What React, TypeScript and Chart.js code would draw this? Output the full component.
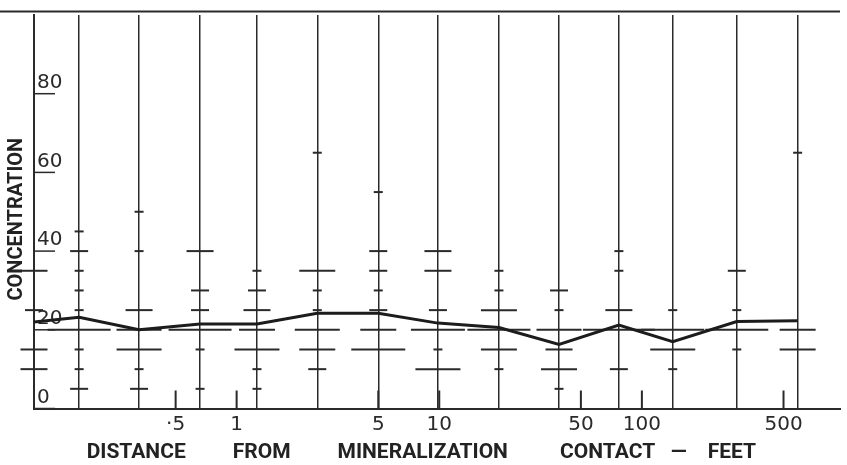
import React, { useEffect, useRef } from 'react';
import { Chart, registerables } from 'chart.js';

Chart.register(...registerables);

// Distance of each sample column from the mineralization contact (feet, log scale)
const columnDistances = [0.1, 0.167, 0.33, 0.66, 1.26, 2.5, 5, 9.85, 19.7, 39, 77, 142, 294, 587];
// Mean concentration at each column (the heavy line)
const meanConcentration = [22, 23.2, 20, 21.5, 21.5, 24.2, 24.2, 21.7, 20.6, 16.3, 21.2, 17, 22.1, 22.3];
// Individual samples per column: [concentration, number of samples]
const samplesByColumn: number[][][] = [
  [[35, 3], [25, 2], [15, 3], [10, 3]],
  [[45, 1], [40, 2], [35, 1], [30, 1], [25, 1], [20, 7], [15, 1], [10, 1], [5, 2]],
  [[50, 1], [40, 1], [25, 3], [20, 5], [15, 5], [10, 1], [5, 2]],
  [[40, 3], [30, 2], [25, 2], [20, 7], [15, 1], [5, 1]],
  [[35, 1], [30, 2], [25, 3], [20, 4], [15, 5], [10, 1], [5, 1]],
  [[65, 1], [35, 4], [30, 1], [25, 1], [20, 5], [15, 4], [10, 2]],
  [[55, 1], [40, 2], [35, 2], [30, 1], [25, 2], [20, 4], [15, 6]],
  [[40, 3], [35, 3], [25, 2], [20, 6], [15, 1], [10, 5]],
  [[35, 1], [30, 1], [25, 4], [20, 7], [15, 4], [10, 1]],
  [[30, 2], [25, 1], [20, 5], [15, 3], [10, 4], [5, 1]],
  [[40, 1], [35, 1], [25, 3], [20, 8], [10, 2]],
  [[25, 1], [20, 7], [15, 5], [10, 1]],
  [[35, 2], [25, 1], [20, 7], [15, 1]],
  [[65, 1], [20, 4], [15, 4]],
];
const xTickValues = [0.5, 1, 5, 10, 50, 100, 500];
const xTickLabels = ['·5', '1', '5', '10', '50', '100', '500'];
const yTickValues = [0, 20, 40, 60, 80, 100];
const yTickLabels = ['0', '20', '40', '60', '80', ''];

const xTitle =
  'DISTANCE' + ' '.repeat(9) + 'FROM' + ' '.repeat(9) + 'MINERALIZATION' + ' '.repeat(10) +
  'CONTACT' + ' '.repeat(3) + '—' + ' '.repeat(4) + 'FEET' + ' '.repeat(6);
const yTitle = 'CONCENTRATION' + ' '.repeat(3);

const INK = '#2a2a2a';

const overlayPlugin = {
  id: 'overlay',
  afterDraw(chart: any) {
    const { ctx, chartArea, scales } = chart;
    const xs = scales.x;
    const ys = scales.y;
    ctx.save();
    ctx.strokeStyle = INK;
    ctx.lineWidth = 1.5;
    ys.ticks.forEach((t: any) => {
      const py = ys.getPixelForValue(t.value);
      ctx.beginPath();
      ctx.moveTo(chartArea.left, py);
      ctx.lineTo(chartArea.left + 21, py);
      ctx.stroke();
    });
    ctx.lineWidth = 2;
    xs.ticks.forEach((t: any) => {
      const px = xs.getPixelForValue(t.value);
      ctx.beginPath();
      ctx.moveTo(px, chartArea.bottom);
      ctx.lineTo(px, chartArea.bottom - 18);
      ctx.stroke();
    });
    ctx.beginPath();
    ctx.moveTo(0, chartArea.top - 3.5);
    ctx.lineTo(chartArea.right, chartArea.top - 3.5);
    ctx.stroke();
    ctx.restore();
  },
};

export default function App() {
  const ref = useRef<HTMLCanvasElement>(null);
  useEffect(() => {
    document.body.style.margin = '0';
    const canvas = ref.current;
    if (!canvas) return;
    const samplePoints: any[] = [];
    samplesByColumn.forEach((col, i) => {
      col.forEach(([v, n]) => samplePoints.push({ x: columnDistances[i], y: v, n }));
    });
    const meanPoints = columnDistances.map((d, i) => ({ x: d, y: meanConcentration[i] }));
    const tickFont = { family: '"DejaVu Sans", sans-serif', size: 20, lineHeight: 1.2 };
    const titleFont = { family: 'Roboto, sans-serif', size: 21, weight: 'bold' as const };

    const chart = new Chart(canvas, {
      type: 'scatter',
      data: {
        datasets: [
          {
            type: 'line',
            label: 'mean',
            data: meanPoints,
            borderColor: '#1c1c1c',
            borderWidth: 3,
            pointRadius: 0,
            tension: 0,
            fill: false,
            order: 0,
          } as any,
          {
            type: 'scatter',
            label: 'samples',
            data: samplePoints,
            showLine: false,
            pointStyle: 'line',
            pointRadius: (c: any) => (c.raw ? c.raw.n * 4.5 : 0),
            pointBorderColor: INK,
            pointBorderWidth: 2,
            pointBackgroundColor: INK,
            clip: false,
            order: 1,
          } as any,
        ],
      },
      options: {
        responsive: false,
        animation: false,
        events: [],
        layout: { autoPadding: false, padding: { left: 0, top: 8, right: 7, bottom: 0 } },
        plugins: { legend: { display: false }, tooltip: { enabled: false } },
        scales: {
          x: {
            type: 'logarithmic',
            position: 'bottom',
            min: 0.1,
            max: 950,
            afterBuildTicks: (axis: any) => {
              axis.ticks = xTickValues.map((v) => ({ value: v }));
            },
            ticks: {
              autoSkip: false,
              maxRotation: 0,
              minRotation: 0,
              padding: 4,
              color: '#2a2a2a',
              font: tickFont,
              callback: (value: any) => {
                const i = xTickValues.indexOf(Number(value));
                return i >= 0 ? xTickLabels[i] : null;
              },
            },
            grid: { display: false, drawTicks: false },
            border: { display: true, color: INK, width: 2 },
            title: {
              display: true,
              text: xTitle,
              color: '#222',
              font: { ...titleFont, lineHeight: 1.15 },
              padding: { top: 0.35, bottom: 0 },
            },
          } as any,
          cols: {
            type: 'logarithmic',
            position: 'bottom',
            min: 0.1,
            max: 950,
            afterBuildTicks: (axis: any) => {
              axis.ticks = columnDistances.slice(1).map((v) => ({ value: v }));
            },
            ticks: { display: false },
            grid: { display: true, drawTicks: false, color: INK, lineWidth: 1.5 },
            border: { display: false },
          } as any,
          y: {
            type: 'linear',
            position: 'left',
            min: 0,
            max: 100,
            afterBuildTicks: (axis: any) => {
              axis.ticks = yTickValues.map((v) => ({ value: v }));
            },
            ticks: {
              mirror: true,
              padding: 3,
              labelOffset: -11,
              color: '#2a2a2a',
              font: tickFont,
              callback: (value: any) => {
                const i = yTickValues.indexOf(Number(value));
                const s = i >= 0 ? yTickLabels[i] : '';
                return s === '' ? null : s;
              },
            },
            grid: { display: false, drawTicks: false },
            border: { display: true, color: INK, width: 2 },
            title: {
              display: true,
              text: yTitle,
              color: '#222',
              font: { family: 'Roboto, sans-serif', size: 20, weight: 'bold', lineHeight: 1 },
              padding: { top: 7, bottom: 1 },
            },
          } as any,
        },
      },
      plugins: [overlayPlugin],
    });
    return () => chart.destroy();
  }, []);
  return (
    <div style={{ width: 847, height: 465, background: '#fff' }}>
      <canvas ref={ref} width={847} height={465} style={{ display: 'block' }} />
    </div>
  );
}
